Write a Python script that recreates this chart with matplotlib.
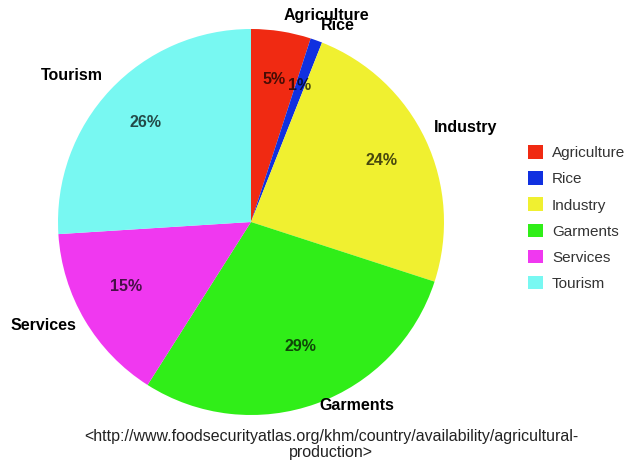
import matplotlib.pyplot as plt

# datos del gráfico
sectores = ['Agriculture', 'Rice', 'Industry', 'Garments', 'Services', 'Tourism']
porcentajes = [5, 1, 24, 29, 15, 26]
colores = ['#f02a12', '#1030e0', '#f0f030', '#30ee18', '#f038f0', '#78f8f2']
fuente = '<http://www.foodsecurityatlas.org/khm/country/availability/agricultural-\nproduction>'

plt.rcParams['font.family'] = ['Liberation Sans', 'DejaVu Sans']

fig = plt.figure(figsize=(6.25, 4.62), dpi=100)
ax = fig.add_axes([58 / 625, (462 - 415) / 462, 386 / 625, 386 / 462])

wedges, textos, pcts = ax.pie(
    porcentajes, labels=sectores, colors=colores, startangle=90, counterclock=False,
    autopct='%d%%', pctdistance=0.75, labeldistance=1.05, radius=1,
    textprops={'fontsize': 11.5, 'fontweight': 'bold'},
)
ax.set_xlim(-1, 1)
ax.set_ylim(-1, 1)
ax.set_aspect('equal')

for t in pcts:
    t.set_color('#000000')
    t.set_alpha(0.7)

# ajustes de etiquetas que en el original no están en el centro de la porción
textos[0].set_position((0.39, 1.07))
textos[0].set_ha('center')
textos[1].set_position((0.45, 1.02))
textos[1].set_ha('center')
textos[2].set_y(textos[2].get_position()[1] + 0.04)
textos[3].set_position((0.55, -0.95))
textos[3].set_ha('center')
textos[5].set_y(textos[5].get_position()[1] + 0.04)
x, y = pcts[3].get_position()
pcts[3].set_position((x, y + 0.06))
x, y = pcts[4].get_position()
pcts[4].set_position((x, y + 0.05))

fig.legend(wedges, sectores, loc='center left', bbox_to_anchor=(0.822, 0.528),
           frameon=False, fontsize=11, handlelength=1.0, handleheight=1.0,
           labelspacing=0.72, handletextpad=0.6, labelcolor='#333333')

fig.text(0.53, 0.038, fuente, ha='center', va='center', fontsize=11.5, color='#222222',
         linespacing=1.05)

fig.savefig('out.png', dpi=100)
